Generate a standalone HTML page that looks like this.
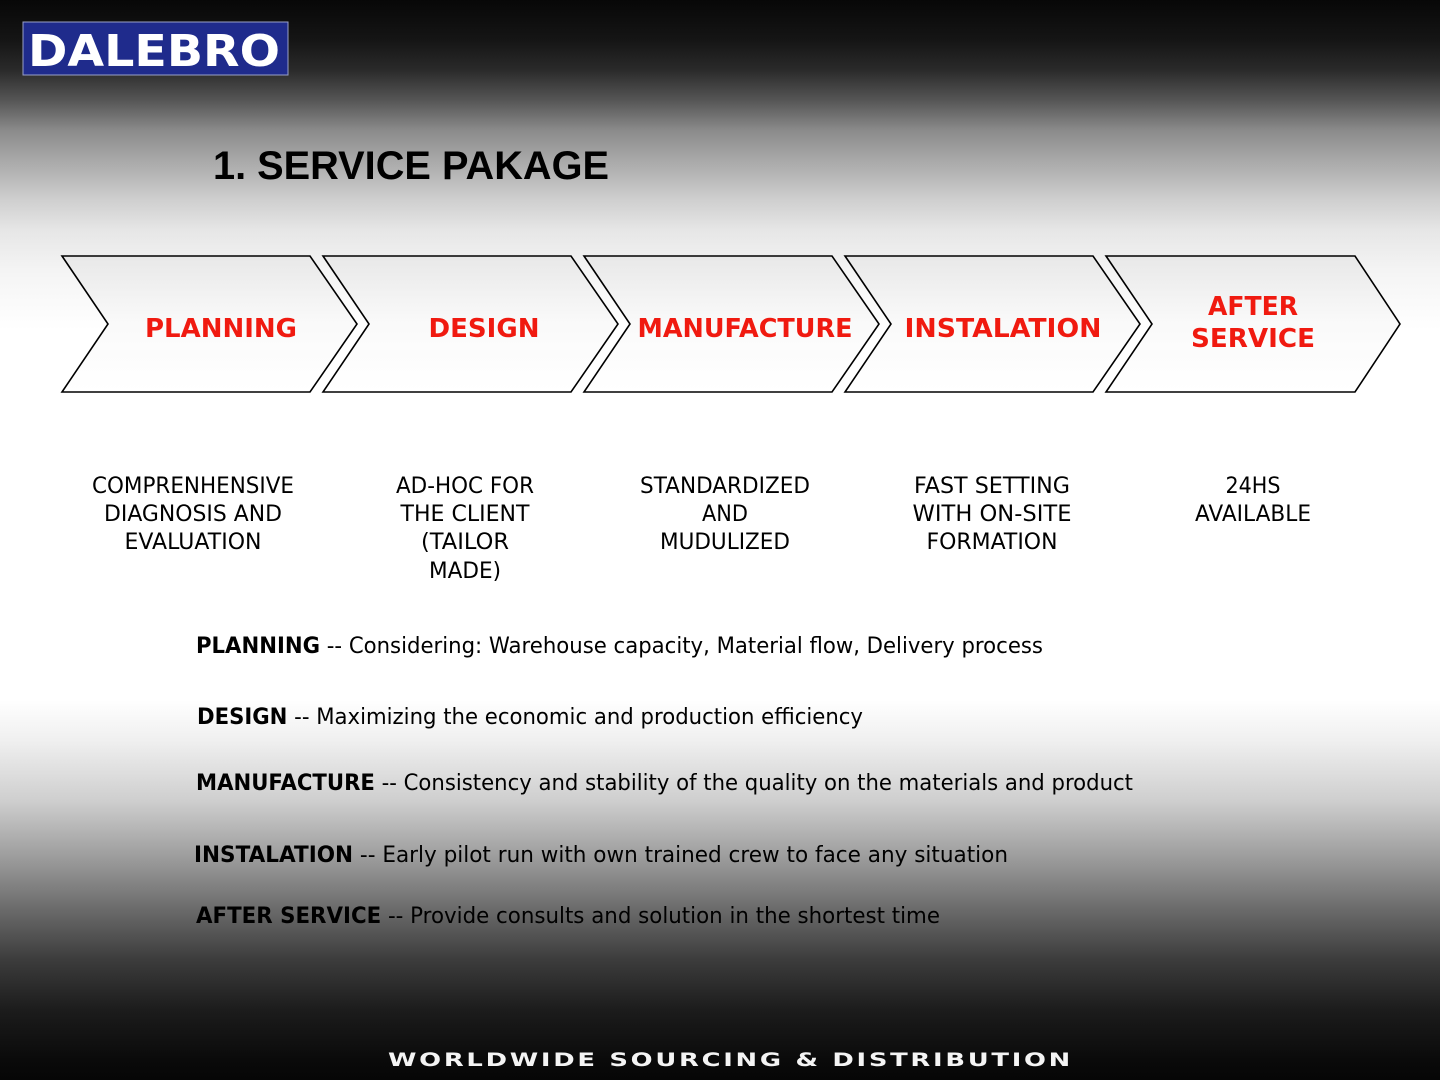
<!DOCTYPE html>
<html><head><meta charset="utf-8"><style>
html,body{margin:0;padding:0;width:1440px;height:1080px;overflow:hidden}
body{background:linear-gradient(to bottom,#070707 0px,#151515 40px,#2a2a2a 70px,#555 100px,#8a8a8a 130px,#a8a8a8 160px,#cfcfcf 200px,#e6e6e6 230px,#f4f4f4 270px,#fff 330px,#fff 700px,#f0f0f0 740px,#cfcfcf 800px,#9a9a9a 860px,#6a6a6a 910px,#3c3c3c 960px,#1c1c1c 1010px,#0a0a0a 1060px,#060606 1080px)}
svg{position:absolute;left:0;top:0}
</style></head><body>
<svg width="1440" height="1080" viewBox="0 0 1440 1080" xmlns="http://www.w3.org/2000/svg">
<defs>
<linearGradient id="cf" x1="0" y1="0" x2="0" y2="1">
<stop offset="0" stop-color="#e8e8e8"/><stop offset="0.5" stop-color="#fafafa"/><stop offset="1" stop-color="#ffffff"/>
</linearGradient>
</defs>
<!-- logo -->
<rect x="23" y="22" width="265" height="53" fill="#1f2b8c" stroke="#9aa0c8" stroke-width="1"/>
<text x="28" y="66" font-family="DejaVu Sans, sans-serif" font-weight="bold" font-size="44" fill="#fff" textLength="252" lengthAdjust="spacingAndGlyphs">DALEBRO</text>
<!-- title -->
<text x="213" y="179" font-family="Liberation Sans, sans-serif" font-weight="bold" font-size="40" fill="#000" textLength="396" lengthAdjust="spacingAndGlyphs">1. SERVICE PAKAGE</text>
<!-- chevrons -->
<g fill="url(#cf)" stroke="#000" stroke-width="1.6" stroke-linejoin="miter">
<polygon points="62,256 310,256 357,324 310,392 62,392 108,324"/>
<polygon points="323,256 571,256 618,324 571,392 323,392 369,324"/>
<polygon points="584,256 832,256 879,324 832,392 584,392 630,324"/>
<polygon points="845,256 1093,256 1140,324 1093,392 845,392 891,324"/>
<polygon points="1106,256 1355,256 1400,324 1355,392 1106,392 1152,324"/>
</g>
<g font-family="DejaVu Sans, sans-serif" font-weight="bold" font-size="26" fill="#f01a10" text-anchor="middle">
<text x="221" y="337" textLength="152" lengthAdjust="spacingAndGlyphs">PLANNING</text>
<text x="484" y="337" textLength="111" lengthAdjust="spacingAndGlyphs">DESIGN</text>
<text x="745" y="337" textLength="215" lengthAdjust="spacingAndGlyphs">MANUFACTURE</text>
<text x="1003" y="337" textLength="197" lengthAdjust="spacingAndGlyphs">INSTALATION</text>
<text x="1253" y="315" textLength="90" lengthAdjust="spacingAndGlyphs">AFTER</text>
<text x="1253" y="347" textLength="124" lengthAdjust="spacingAndGlyphs">SERVICE</text>
</g>
<!-- descriptions -->
<g font-family="DejaVu Sans, sans-serif" font-size="22" fill="#000" text-anchor="middle">
<text x="193" y="493" textLength="202" lengthAdjust="spacingAndGlyphs">COMPRENHENSIVE</text>
<text x="193" y="521" textLength="178" lengthAdjust="spacingAndGlyphs">DIAGNOSIS AND</text>
<text x="193" y="549" textLength="137" lengthAdjust="spacingAndGlyphs">EVALUATION</text>
<text x="465" y="493" textLength="138" lengthAdjust="spacingAndGlyphs">AD-HOC FOR</text>
<text x="465" y="521" textLength="129" lengthAdjust="spacingAndGlyphs">THE CLIENT</text>
<text x="465" y="549" textLength="88" lengthAdjust="spacingAndGlyphs">(TAILOR</text>
<text x="465" y="578" textLength="72" lengthAdjust="spacingAndGlyphs">MADE)</text>
<text x="725" y="493" textLength="170" lengthAdjust="spacingAndGlyphs">STANDARDIZED</text>
<text x="725" y="521" textLength="46" lengthAdjust="spacingAndGlyphs">AND</text>
<text x="725" y="549" textLength="130" lengthAdjust="spacingAndGlyphs">MUDULIZED</text>
<text x="992" y="493" textLength="156" lengthAdjust="spacingAndGlyphs">FAST SETTING</text>
<text x="992" y="521" textLength="159" lengthAdjust="spacingAndGlyphs">WITH ON-SITE</text>
<text x="992" y="549" textLength="131" lengthAdjust="spacingAndGlyphs">FORMATION</text>
<text x="1253" y="493" textLength="55" lengthAdjust="spacingAndGlyphs">24HS</text>
<text x="1253" y="521" textLength="116" lengthAdjust="spacingAndGlyphs">AVAILABLE</text>
</g>
<!-- detail lines -->
<g font-family="DejaVu Sans, sans-serif" font-size="22" fill="#000">
<text x="196" y="653" textLength="847" lengthAdjust="spacingAndGlyphs"><tspan font-weight="bold">PLANNING</tspan> -- Considering: Warehouse capacity, Material flow, Delivery process</text>
<text x="197" y="724" textLength="666" lengthAdjust="spacingAndGlyphs"><tspan font-weight="bold">DESIGN</tspan> -- Maximizing the economic and production efficiency</text>
<text x="196" y="790" textLength="937" lengthAdjust="spacingAndGlyphs"><tspan font-weight="bold">MANUFACTURE</tspan> -- Consistency and stability of the quality on the materials and product</text>
<text x="194" y="862" textLength="814" lengthAdjust="spacingAndGlyphs"><tspan font-weight="bold">INSTALATION</tspan> -- Early pilot run with own trained crew to face any situation</text>
<text x="196" y="923" textLength="744" lengthAdjust="spacingAndGlyphs"><tspan font-weight="bold">AFTER SERVICE</tspan> -- Provide consults and solution in the shortest time</text>
</g>
<!-- footer -->
<text x="388" y="1066" font-family="DejaVu Sans, sans-serif" font-weight="bold" font-size="19" letter-spacing="2" fill="#f4f4f4" textLength="685" lengthAdjust="spacingAndGlyphs">WORLDWIDE SOURCING &amp; DISTRIBUTION</text>
</svg>
</body></html>
